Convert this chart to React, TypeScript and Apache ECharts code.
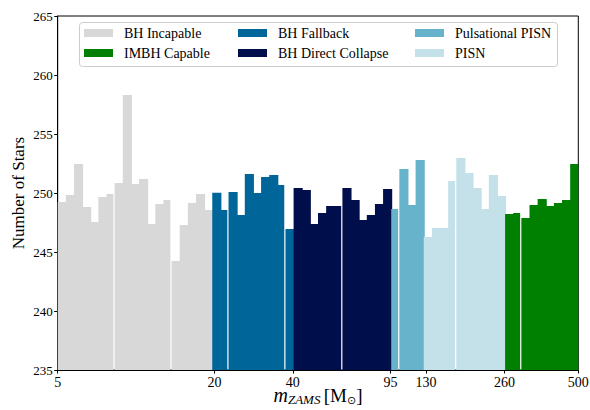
import React, { useEffect, useRef } from "react";
import * as echarts from "echarts";

// Histogram definition: 64 log-spaced bins from 5 to 500 Msun
const massMin = 5;
const massMax = 500;
const binCount = 64;

// Counts per bin, grouped by category (in bin order)
const bhIncapable = [249.24, 249.83, 252.46, 248.81, 247.54, 249.66, 249.92, 250.85, 258.31, 250.76, 251.19, 247.37, 249.07, 249.41, 244.24, 247.29, 249.15, 249.92, 248.56];
const bhFallback = [250.03, 248.56, 250.08, 248.14, 251.6, 250.0, 251.36, 251.53, 250.68, 246.95];
const bhDirectCollapse = [250.42, 250.25, 247.37, 248.31, 248.9, 248.9, 250.42, 249.41, 247.71, 248.14, 249.07, 250.34];
const pulsationalPisn = [248.64, 252.03, 248.98, 252.8];
const pisn = [246.27, 247.03, 247.03, 251.02, 252.97, 251.69, 250.42, 248.64, 251.53, 249.75];
const imbhCapable = [248.22, 248.31, 247.88, 248.98, 249.49, 248.9, 249.15, 249.41, 252.46];

const xTicks = [5, 20, 40, 95, 130, 260, 500];
const yMin = 235;
const yMax = 265;
const yStep = 5;

// Style constants
const FONT = "Liberation Serif";
const groups = [
  { name: "BH Incapable", values: bhIncapable, color: "#d8d8d8" },
  { name: "BH Fallback", values: bhFallback, color: "#006699" },
  { name: "BH Direct Collapse", values: bhDirectCollapse, color: "#000f4b" },
  { name: "Pulsational PISN", values: pulsationalPisn, color: "#68b3cc" },
  { name: "PISN", values: pisn, color: "#c4e1ea" },
  { name: "IMBH Capable", values: imbhCapable, color: "#008000" },
];
// rendering seams visible in the reference (after these bin indices)
const seamAfter = new Set([6, 13, 20, 27, 34, 41, 48, 56]);

export default function App() {
  const ref = useRef<HTMLDivElement>(null);
  useEffect(() => {
    if (!ref.current) return;
    const chart = echarts.init(ref.current, null, { renderer: "svg" });
    const lmin = Math.log10(massMin);
    const lmax = Math.log10(massMax);
    const step = (lmax - lmin) / binCount;
    let offset = 0;
    const series = groups.map((g) => {
      const data = g.values.map((v, i) => {
        const k = offset + i;
        return [lmin + (k + 0.5) * step, v, k];
      });
      offset += g.values.length;
      return {
        type: "custom",
        name: g.name,
        itemStyle: { color: g.color },
        data,
        renderItem: (params: any, api: any) => {
          const k = api.value(2);
          const v = api.value(1);
          const p0 = api.coord([lmin + k * step, v]);
          const p1 = api.coord([lmin + (k + 1) * step, yMin]);
          const seam = seamAfter.has(k);
          const last = k === binCount - 1;
          const w = p1[0] - p0[0] + (seam ? -1.2 : last ? 0 : 1);
          return {
            type: "rect",
            shape: { x: p0[0], y: p0[1], width: w, height: p1[1] - p0[1] },
            style: { fill: g.color },
          };
        },
      };
    });
    const legendCommon = {
      orient: "vertical",
      top: 26,
      padding: 0,
      itemWidth: 29,
      itemHeight: 8,
      itemGap: 6,
      icon: "rect",
      textStyle: { fontFamily: FONT, fontSize: 14, color: "#000", lineHeight: 14, padding: [0, 0, 0, 6] },
    };
    chart.setOption({
      animation: false,
      backgroundColor: "#fff",
      grid: {
        left: 57.7, right: 11.7, top: 16, bottom: 40,
        outerBoundsMode: "none", containLabel: false,
        show: true, borderColor: "#000", borderWidth: 1, backgroundColor: "transparent",
      },
      legend: [
        { ...legendCommon, left: 84, data: ["BH Incapable", "IMBH Capable"] },
        { ...legendCommon, left: 238, data: ["BH Fallback", "BH Direct Collapse"] },
        { ...legendCommon, left: 415, data: ["Pulsational PISN", "PISN"] },
      ],
      graphic: [
        {
          type: "rect",
          z: 3,
          shape: { x: 79.5, y: 22.5, width: 478, height: 44, r: 3 },
          style: { fill: "rgba(255,255,255,0.8)", stroke: "#cccccc", lineWidth: 1 },
        },
      ],
      xAxis: {
        type: "value",
        min: lmin,
        max: lmax,
        name: "{i|m}{s|ZAMS} {r|[M}{o|⊙}{r|]}",
        nameLocation: "middle",
        nameGap: 14,
        nameMoveOverlap: false,
        nameTextStyle: {
          verticalAlign: "top",
          rich: {
            i: { fontFamily: FONT, fontSize: 20, fontStyle: "italic", color: "#000", lineHeight: 22 },
            s: { fontFamily: FONT, fontSize: 13, fontStyle: "italic", color: "#000", lineHeight: 12, padding: [11, 0, 0, 0], verticalAlign: "bottom" },
            r: { fontFamily: FONT, fontSize: 19, color: "#000", lineHeight: 22 },
            o: { fontFamily: "DejaVu Sans", fontSize: 11, color: "#000", lineHeight: 10, padding: [10, 0, 0, 0], verticalAlign: "bottom" },
          },
        },
        axisLine: { lineStyle: { color: "#000", width: 1 } },
        axisTick: { show: true, length: 3.5, lineStyle: { color: "#000" }, customValues: xTicks.map((t) => Math.log10(t)) },
        axisLabel: {
          color: "#000",
          fontFamily: FONT,
          fontSize: 14,
          margin: 5,
          customValues: xTicks.map((t) => Math.log10(t)),
          formatter: (v: number) => String(Math.round(Math.pow(10, v))),
        },
        splitLine: { show: false },
      },
      yAxis: {
        type: "value",
        min: yMin,
        max: yMax,
        interval: yStep,
        name: "Number of Stars",
        nameLocation: "middle",
        nameGap: 31,
        nameMoveOverlap: false,
        nameTextStyle: { fontFamily: FONT, fontSize: 17, color: "#000" },
        axisLine: { show: true, lineStyle: { color: "#000", width: 1 } },
        axisTick: { show: true, length: 3.5, lineStyle: { color: "#000" } },
        axisLabel: { color: "#000", fontFamily: FONT, fontSize: 13, margin: 5 },
        splitLine: { show: false },
      },
      series,
    });
    return () => chart.dispose();
  }, []);
  return <div ref={ref} style={{ position: "fixed", left: 0, top: 0, width: 590, height: 410 }} />;
}
